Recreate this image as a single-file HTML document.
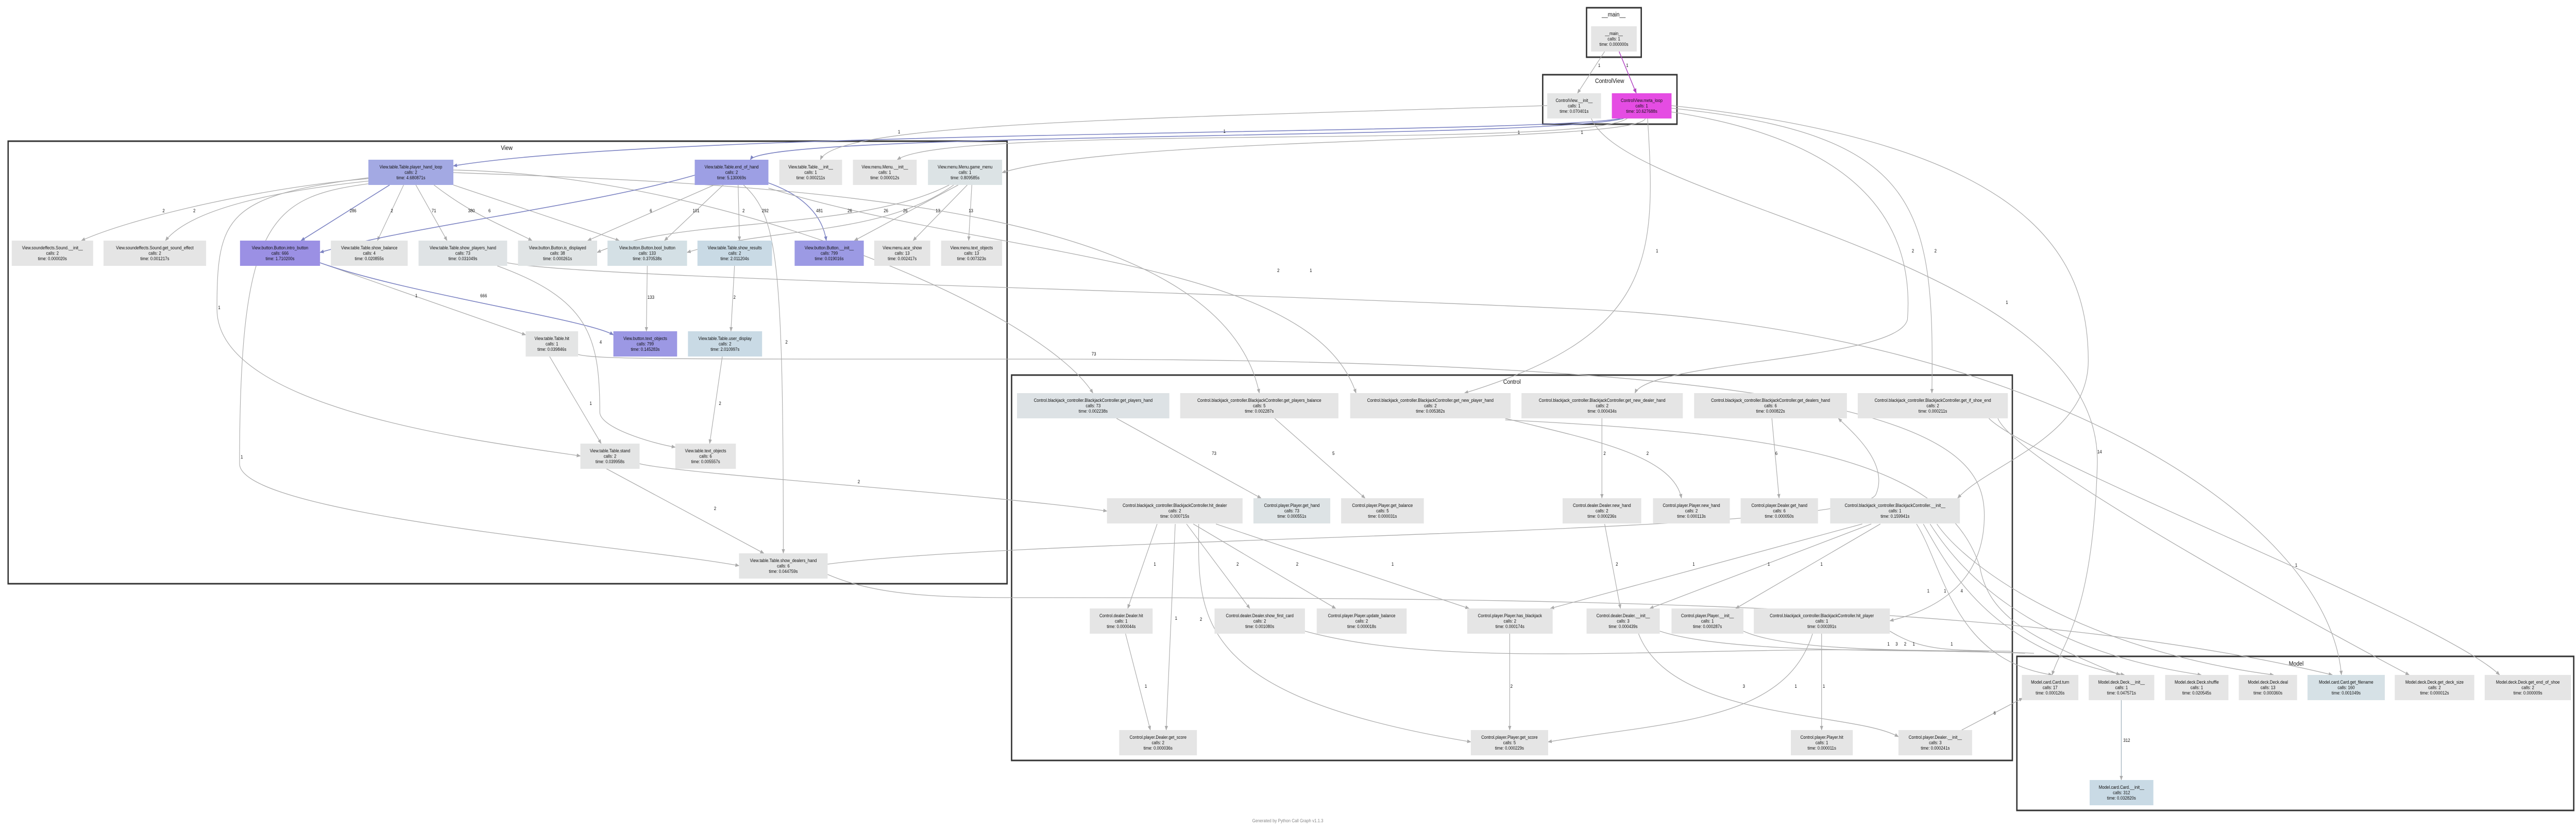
<!DOCTYPE html>
<html><head><meta charset="utf-8"><style>
html,body{margin:0;padding:0;background:#fff;overflow:hidden;width:100%;height:100%;}
svg{display:block;width:100vw;height:100vh;}
text{font-family:"Liberation Sans","DejaVu Sans",sans-serif;font-size:9px;fill:#111;text-anchor:middle;}
.cl{font-size:12px;}
.e{fill:none;stroke:#ababab;stroke-width:1.3;}
.b{fill:none;stroke:#7c83c2;stroke-width:1.6;}
.c{fill:#fff;stroke:#333;stroke-width:3;}
</style></head><body>
<svg viewBox="0 0 5699 1611" preserveAspectRatio="none" xmlns="http://www.w3.org/2000/svg">
<defs>
<marker id="a" viewBox="0 0 10 10" refX="9" refY="5" markerWidth="9" markerHeight="9" orient="auto" markerUnits="userSpaceOnUse"><path d="M0,1 L10,5 L0,9 z" fill="#ababab"/></marker>
<marker id="ab" viewBox="0 0 10 10" refX="9" refY="5" markerWidth="9" markerHeight="9" orient="auto" markerUnits="userSpaceOnUse"><path d="M0,1 L10,5 L0,9 z" fill="#7c83c2"/></marker>
<marker id="am" viewBox="0 0 10 10" refX="9" refY="5" markerWidth="10" markerHeight="10" orient="auto" markerUnits="userSpaceOnUse"><path d="M0,1 L10,5 L0,9 z" fill="#b040c0"/></marker>
</defs>
<rect width="5699" height="1611" fill="#fff"/>

<rect class="c" x="3510" y="15" width="121" height="96"/><text class="cl" x="3570" y="32">__main__</text>
<rect class="c" x="3413" y="145" width="297" height="96"/><text class="cl" x="3561" y="161">ControlView</text>
<rect class="c" x="18" y="274" width="2210" height="859"/><text class="cl" x="1121" y="291">View</text>
<rect class="c" x="2238" y="728" width="2214" height="748"/><text class="cl" x="3345" y="745">Control</text>
<rect class="c" x="4462" y="1274" width="1232" height="299"/><text class="cl" x="5080" y="1292">Model</text>

<g>
<path class="e" marker-end="url(#a)" d="M3550,100 L3490,181"/><text x="3538" y="130">1</text>
<path d="M3582,100 L3620,181" fill="none" stroke="#b040c0" stroke-width="1.6" marker-end="url(#am)"/><text x="3600" y="130">1</text>
<path class="b" marker-end="url(#ab)" d="M3585,230 C3400,262 1500,250 1003,322"/><text x="2709" y="258">1</text>
<path class="b" marker-end="url(#ab)" d="M3592,230 C3400,272 1700,255 1660,310"/>
<path class="e" marker-end="url(#a)" d="M3423,205 C2500,230 1850,240 1815,310"/><text x="1989" y="259">1</text>
<path class="e" marker-end="url(#a)" d="M3600,230 C3500,290 2100,240 1985,310"/><text x="3360" y="260">1</text>
<path class="e" marker-end="url(#a)" d="M3640,230 C3620,280 2500,260 2217,335"/><text x="3500" y="260">1</text>
<path class="e" marker-end="url(#a)" d="M3520,229 C3600,400 4650,500 4640,900 C4630,1200 4560,1250 4540,1310"/><text x="4645" y="880">14</text>
<path class="e" marker-end="url(#a)" d="M3645,230 C3665,500 3660,650 3240,763"/><text x="3666" y="490">1</text>
<path class="e" marker-end="url(#a)" d="M3680,215 C4200,280 4230,500 4220,620 C4200,700 3650,700 3617,763"/><text x="4232" y="490">2</text>
<path class="e" marker-end="url(#a)" d="M3698,210 C4250,260 4280,400 4274,763"/><text x="4282" y="490">2</text>
<path class="e" marker-end="url(#a)" d="M3698,205 C4500,280 4620,500 4620,700 C4620,850 4400,900 4331,967"/><text x="4440" y="590">1</text>
<path class="e" marker-end="url(#a)" d="M1831,1095 C2300,1040 4100,1040 4150,960 C4180,900 4100,840 4067,812"/>

<path class="e" marker-end="url(#a)" d="M840,345 C600,360 300,420 180,467"/><text x="362" y="412">2</text>
<path class="e" marker-end="url(#a)" d="M830,350 C500,380 400,430 366,467"/><text x="430" y="412">2</text>
<path class="b" marker-end="url(#ab)" d="M862,359 L666,467"/><text x="781" y="412">286</text>
<path class="e" marker-end="url(#a)" d="M893,359 L835,467"/><text x="867" y="412">2</text>
<path class="e" marker-end="url(#a)" d="M920,359 L989,467"/><text x="960" y="412">71</text>
<path class="e" marker-end="url(#a)" d="M960,359 C1050,420 1120,440 1177,467"/><text x="1043" y="412">380</text>
<path class="e" marker-end="url(#a)" d="M1003,359 L1370,467"/><text x="1083" y="412">6</text>
<path class="e" marker-end="url(#a)" d="M708,510 L1163,650"/><text x="921" y="577">1</text>
<path class="e" marker-end="url(#a)" d="M815,345 C500,380 480,420 480,600 C480,800 1100,860 1284,885"/><text x="485" y="600">1</text>
<path class="e" marker-end="url(#a)" d="M830,355 C600,380 530,420 530,900 C530,1000 1400,1060 1635,1098"/><text x="535" y="890">1</text>
<path class="e" marker-end="url(#a)" d="M1003,330 C1600,340 2300,600 2418,763"/><text x="2420" y="690">73</text>
<path class="e" marker-end="url(#a)" d="M1003,335 C1800,360 2700,400 2786,763"/><text x="2828" y="528">2</text>
<path class="b" marker-end="url(#ab)" d="M708,510 C900,570 1300,620 1357,650"/><text x="1070" y="577">666</text>
<path class="e" marker-end="url(#a)" d="M1580,359 L1300,467"/><text x="1440" y="412">6</text>
<path class="e" marker-end="url(#a)" d="M1600,359 L1470,467"/><text x="1540" y="412">101</text>
<path class="e" marker-end="url(#a)" d="M1633,359 L1636,467"/><text x="1645" y="412">2</text>
<path class="b" marker-end="url(#ab)" d="M1700,355 C1780,380 1820,420 1828,467"/><text x="1813" y="412">481</text>
<path class="e" marker-end="url(#a)" d="M1645,359 C1720,420 1733,500 1733,1074"/><text x="1693" y="412">292</text><text x="1740" y="667">2</text>
<path class="b" marker-end="url(#ab)" d="M1537,340 C1300,400 900,440 708,490"/>
<path class="e" marker-end="url(#a)" d="M1700,365 C2200,500 2900,500 3000,763"/><text x="2900" y="528">1</text>
<path class="e" marker-end="url(#a)" d="M2100,359 C1900,450 1500,420 1321,490"/><text x="1880" y="412">26</text>
<path class="e" marker-end="url(#a)" d="M2110,359 C1950,460 1700,440 1520,490"/><text x="1960" y="412">26</text>
<path class="e" marker-end="url(#a)" d="M2120,359 L1890,467"/><text x="2003" y="412">26</text>
<path class="e" marker-end="url(#a)" d="M2140,359 L2020,467"/><text x="2075" y="412">13</text>
<path class="e" marker-end="url(#a)" d="M2150,359 L2143,467"/><text x="2148" y="412">13</text>
<path class="e" marker-end="url(#a)" d="M1432,516 L1430,643"/><text x="1440" y="580">133</text>
<path class="e" marker-end="url(#a)" d="M1625,516 L1617,643"/><text x="1625" y="580">2</text>
<path class="e" marker-end="url(#a)" d="M1216,692 L1330,861"/><text x="1307" y="786">1</text>
<path class="e" marker-end="url(#a)" d="M1598,692 L1570,861"/><text x="1593" y="786">2</text>
<path class="e" marker-end="url(#a)" d="M1100,516 C1300,580 1327,650 1327,800 C1327,830 1440,860 1494,868"/><text x="1329" y="667">4</text>
<path class="e" marker-end="url(#a)" d="M1279,688 C1320,698 1500,697 2300,697 C4200,697 4390,850 4390,1000 C4390,1150 4250,1190 4181,1205"/>
<path class="e" marker-end="url(#a)" d="M1340,909 L1690,1074"/><text x="1582" y="990">2</text>
<path class="e" marker-end="url(#a)" d="M1415,900 C1500,920 2200,960 2449,992"/><text x="1900" y="938">2</text>
<path class="e" marker-end="url(#a)" d="M1831,1115 C1950,1160 2100,1160 2300,1160 C3500,1160 4500,1170 5160,1310"/>
<path class="e" marker-end="url(#a)" d="M1122,510 C1300,540 2500,560 3500,600 C4500,640 5150,1000 5180,1310"/>

<path class="e" marker-end="url(#a)" d="M2470,812 L2790,967"/><text x="2686" y="883">73</text>
<path class="e" marker-end="url(#a)" d="M2820,812 L3020,967"/><text x="2950" y="883">5</text>
<path class="e" marker-end="url(#a)" d="M3544,812 L3544,967"/><text x="3550" y="883">2</text>
<path class="e" marker-end="url(#a)" d="M3330,812 C3500,850 3700,880 3720,967"/><text x="3645" y="883">2</text>
<path class="e" marker-end="url(#a)" d="M3920,812 L3936,967"/><text x="3930" y="883">6</text>
<path class="e" marker-end="url(#a)" d="M4400,812 C4500,900 5400,1200 5530,1310"/><text x="5080" y="1100">1</text>
<path class="e" marker-end="url(#a)" d="M4420,812 C4460,900 5200,1250 5330,1310"/>
<path class="e" marker-end="url(#a)" d="M3330,815 C3900,840 4300,880 4380,1100 C4400,1200 4500,1240 4690,1310"/>
<path class="e" marker-end="url(#a)" d="M2560,1017 L2495,1181"/><text x="2555" y="1098">1</text>
<path class="e" marker-end="url(#a)" d="M2600,1017 L2580,1417"/><text x="2602" y="1203">1</text>
<path class="e" marker-end="url(#a)" d="M2652,1017 C2650,1200 2640,1350 3254,1440"/><text x="2657" y="1205">2</text>
<path class="e" marker-end="url(#a)" d="M2625,1017 L2765,1181"/><text x="2738" y="1098">2</text>
<path class="e" marker-end="url(#a)" d="M2640,1017 L2955,1181"/><text x="2870" y="1098">2</text>
<path class="e" marker-end="url(#a)" d="M2690,1017 L3250,1181"/><text x="3081" y="1098">1</text>
<path class="e" marker-end="url(#a)" d="M4120,1017 L3430,1181"/><text x="3747" y="1098">1</text>
<path class="e" marker-end="url(#a)" d="M4140,1017 L3650,1181"/><text x="3913" y="1098">1</text>
<path class="e" marker-end="url(#a)" d="M4160,1017 L3840,1181"/><text x="4030" y="1098">1</text>
<path class="e" marker-end="url(#a)" d="M4240,1017 C4300,1100 4320,1280 4540,1310"/><text x="4266" y="1150">1</text>
<path class="e" marker-end="url(#a)" d="M4255,1017 C4310,1100 4400,1260 4700,1310"/><text x="4303" y="1150">1</text>
<path class="e" marker-end="url(#a)" d="M4270,1017 C4330,1100 4480,1260 4870,1310"/><text x="4340" y="1150">4</text>
<path class="e" marker-end="url(#a)" d="M4285,1017 C4350,1100 4600,1260 5030,1310"/>
<path class="e" marker-end="url(#a)" d="M3550,1017 L3585,1181"/><text x="3577" y="1098">2</text>
<path class="e" marker-end="url(#a)" d="M2490,1230 L2545,1417"/><text x="2535" y="1335">1</text>
<path class="e" marker-end="url(#a)" d="M3340,1230 L3340,1417"/><text x="3344" y="1335">2</text>
<path class="e" marker-end="url(#a)" d="M3625,1230 C3700,1400 4100,1380 4200,1430"/><text x="3858" y="1335">3</text>
<path class="e" marker-end="url(#a)" d="M4010,1230 C3950,1400 3700,1400 3425,1440"/><text x="3973" y="1335">1</text>
<path class="e" marker-end="url(#a)" d="M4030,1230 L4030,1417"/><text x="4035" y="1335">1</text>
<path class="e" marker-end="url(#a)" d="M4340,1417 L4475,1355"/><text x="4413" y="1387">6</text>
<path class="e" d="M2887,1225 C3200,1300 3700,1255 4200,1262 C4400,1266 4440,1266 4480,1268"/>
<path class="e" d="M3672,1225 C3800,1262 4100,1262 4300,1264 C4400,1266 4460,1266 4500,1268"/>
<path class="e" d="M3857,1225 C3950,1262 4200,1262 4400,1264"/>
<path class="e" d="M4181,1225 C4250,1262 4300,1262 4450,1264"/>
<text x="4178" y="1253">1</text><text x="4196" y="1253">3</text><text x="4215" y="1253">2</text><text x="4234" y="1253">1</text><text x="4318" y="1253">1</text>
<path fill="none" stroke="#99aab5" stroke-width="1.3" d="M4693,1359 L4693,1514" marker-end="url(#a)"/><text x="4705" y="1440">312</text>
</g>

<g>
<rect x="3520" y="51" width="101" height="49" fill="#e5e5e5"/><text x="3570.5" y="68"><tspan x="3570.5">__main__</tspan><tspan x="3570.5" dy="10.5">calls: 1</tspan><tspan x="3570.5" dy="10.5">time: 0.000000s</tspan></text>
<rect x="3423" y="181" width="119" height="49" fill="#e5e6e6"/><text x="3482.5" y="198"><tspan x="3482.5">ControlView.__init__</tspan><tspan x="3482.5" dy="10.5">calls: 1</tspan><tspan x="3482.5" dy="10.5">time: 0.070401s</tspan></text>
<rect x="3566" y="181" width="132" height="49" fill="#e54ce3"/><text x="3632" y="198"><tspan x="3632">ControlView.meta_loop</tspan><tspan x="3632" dy="10.5">calls: 1</tspan><tspan x="3632" dy="10.5">time: 10.627688s</tspan></text>

<rect x="815" y="310" width="188" height="49" fill="#a3a9e3"/><text x="909" y="327"><tspan x="909">View.table.Table.player_hand_loop</tspan><tspan x="909" dy="10.5">calls: 2</tspan><tspan x="909" dy="10.5">time: 4.680871s</tspan></text>
<rect x="1537" y="310" width="163" height="49" fill="#9d9fe4"/><text x="1618.5" y="327"><tspan x="1618.5">View.table.Table.end_of_hand</tspan><tspan x="1618.5" dy="10.5">calls: 2</tspan><tspan x="1618.5" dy="10.5">time: 5.130069s</tspan></text>
<rect x="1724" y="310" width="139" height="49" fill="#e5e5e5"/><text x="1793.5" y="327"><tspan x="1793.5">View.table.Table.__init__</tspan><tspan x="1793.5" dy="10.5">calls: 1</tspan><tspan x="1793.5" dy="10.5">time: 0.000211s</tspan></text>
<rect x="1887" y="310" width="141" height="49" fill="#e5e5e5"/><text x="1957.5" y="327"><tspan x="1957.5">View.menu.Menu.__init__</tspan><tspan x="1957.5" dy="10.5">calls: 1</tspan><tspan x="1957.5" dy="10.5">time: 0.000012s</tspan></text>
<rect x="2053" y="310" width="164" height="49" fill="#dce3e5"/><text x="2135" y="327"><tspan x="2135">View.menu.Menu.game_menu</tspan><tspan x="2135" dy="10.5">calls: 1</tspan><tspan x="2135" dy="10.5">time: 0.809585s</tspan></text>

<rect x="26" y="467" width="180" height="49" fill="#e5e5e5"/><text x="116" y="484"><tspan x="116">View.soundeffects.Sound.__init__</tspan><tspan x="116" dy="10.5">calls: 2</tspan><tspan x="116" dy="10.5">time: 0.000020s</tspan></text>
<rect x="229" y="467" width="227" height="49" fill="#e5e5e5"/><text x="342.5" y="484"><tspan x="342.5">View.soundeffects.Sound.get_sound_effect</tspan><tspan x="342.5" dy="10.5">calls: 2</tspan><tspan x="342.5" dy="10.5">time: 0.001217s</tspan></text>
<rect x="531" y="467" width="177" height="49" fill="#9b90e4"/><text x="619.5" y="484"><tspan x="619.5">View.button.Button.intro_button</tspan><tspan x="619.5" dy="10.5">calls: 666</tspan><tspan x="619.5" dy="10.5">time: 1.710200s</tspan></text>
<rect x="732" y="467" width="170" height="49" fill="#e4e5e5"/><text x="817" y="484"><tspan x="817">View.table.Table.show_balance</tspan><tspan x="817" dy="10.5">calls: 4</tspan><tspan x="817" dy="10.5">time: 0.020855s</tspan></text>
<rect x="926" y="467" width="196" height="49" fill="#dfe3e5"/><text x="1024" y="484"><tspan x="1024">View.table.Table.show_players_hand</tspan><tspan x="1024" dy="10.5">calls: 73</tspan><tspan x="1024" dy="10.5">time: 0.031049s</tspan></text>
<rect x="1146" y="467" width="175" height="49" fill="#e0e4e5"/><text x="1233.5" y="484"><tspan x="1233.5">View.button.Button.is_displayed</tspan><tspan x="1233.5" dy="10.5">calls: 38</tspan><tspan x="1233.5" dy="10.5">time: 0.000261s</tspan></text>
<rect x="1344" y="467" width="176" height="49" fill="#d4e0e5"/><text x="1432" y="484"><tspan x="1432">View.button.Button.bool_button</tspan><tspan x="1432" dy="10.5">calls: 133</tspan><tspan x="1432" dy="10.5">time: 0.370538s</tspan></text>
<rect x="1543" y="467" width="165" height="49" fill="#c9dae5"/><text x="1625.5" y="484"><tspan x="1625.5">View.table.Table.show_results</tspan><tspan x="1625.5" dy="10.5">calls: 2</tspan><tspan x="1625.5" dy="10.5">time: 2.011204s</tspan></text>
<rect x="1758" y="467" width="153" height="49" fill="#9c9ae4"/><text x="1834.5" y="484"><tspan x="1834.5">View.button.Button.__init__</tspan><tspan x="1834.5" dy="10.5">calls: 799</tspan><tspan x="1834.5" dy="10.5">time: 0.019016s</tspan></text>
<rect x="1934" y="467" width="124" height="49" fill="#e5e5e5"/><text x="1996" y="484"><tspan x="1996">View.menu.ace_show</tspan><tspan x="1996" dy="10.5">calls: 13</tspan><tspan x="1996" dy="10.5">time: 0.002417s</tspan></text>
<rect x="2082" y="467" width="135" height="49" fill="#e5e5e5"/><text x="2149.5" y="484"><tspan x="2149.5">View.menu.text_objects</tspan><tspan x="2149.5" dy="10.5">calls: 13</tspan><tspan x="2149.5" dy="10.5">time: 0.007323s</tspan></text>

<rect x="1163" y="643" width="116" height="49" fill="#e4e5e5"/><text x="1221" y="660"><tspan x="1221">View.table.Table.hit</tspan><tspan x="1221" dy="10.5">calls: 1</tspan><tspan x="1221" dy="10.5">time: 0.039846s</tspan></text>
<rect x="1357" y="643" width="141" height="49" fill="#9c98e4"/><text x="1427.5" y="660"><tspan x="1427.5">View.button.text_objects</tspan><tspan x="1427.5" dy="10.5">calls: 799</tspan><tspan x="1427.5" dy="10.5">time: 0.145283s</tspan></text>
<rect x="1522" y="643" width="164" height="49" fill="#c9dae5"/><text x="1604" y="660"><tspan x="1604">View.table.Table.user_display</tspan><tspan x="1604" dy="10.5">calls: 2</tspan><tspan x="1604" dy="10.5">time: 2.010997s</tspan></text>
<rect x="1284" y="861" width="131" height="49" fill="#e4e5e5"/><text x="1349.5" y="878"><tspan x="1349.5">View.table.Table.stand</tspan><tspan x="1349.5" dy="10.5">calls: 2</tspan><tspan x="1349.5" dy="10.5">time: 0.039958s</tspan></text>
<rect x="1494" y="861" width="134" height="49" fill="#e5e5e5"/><text x="1561" y="878"><tspan x="1561">View.table.text_objects</tspan><tspan x="1561" dy="10.5">calls: 6</tspan><tspan x="1561" dy="10.5">time: 0.005557s</tspan></text>
<rect x="1635" y="1074" width="196" height="49" fill="#e4e5e5"/><text x="1733" y="1091"><tspan x="1733">View.table.Table.show_dealers_hand</tspan><tspan x="1733" dy="10.5">calls: 6</tspan><tspan x="1733" dy="10.5">time: 0.044759s</tspan></text>

<rect x="2250" y="763" width="337" height="49" fill="#dde2e5"/><text x="2418.5" y="780"><tspan x="2418.5">Control.blackjack_controller.BlackjackController.get_players_hand</tspan><tspan x="2418.5" dy="10.5">calls: 73</tspan><tspan x="2418.5" dy="10.5">time: 0.002238s</tspan></text>
<rect x="2611" y="763" width="350" height="49" fill="#e5e5e5"/><text x="2786" y="780"><tspan x="2786">Control.blackjack_controller.BlackjackController.get_players_balance</tspan><tspan x="2786" dy="10.5">calls: 5</tspan><tspan x="2786" dy="10.5">time: 0.002287s</tspan></text>
<rect x="2987" y="763" width="355" height="49" fill="#e5e5e5"/><text x="3164.5" y="780"><tspan x="3164.5">Control.blackjack_controller.BlackjackController.get_new_player_hand</tspan><tspan x="3164.5" dy="10.5">calls: 2</tspan><tspan x="3164.5" dy="10.5">time: 0.005382s</tspan></text>
<rect x="3366" y="763" width="357" height="49" fill="#e5e5e5"/><text x="3544.5" y="780"><tspan x="3544.5">Control.blackjack_controller.BlackjackController.get_new_dealer_hand</tspan><tspan x="3544.5" dy="10.5">calls: 2</tspan><tspan x="3544.5" dy="10.5">time: 0.000434s</tspan></text>
<rect x="3748" y="763" width="338" height="49" fill="#e5e5e5"/><text x="3917" y="780"><tspan x="3917">Control.blackjack_controller.BlackjackController.get_dealers_hand</tspan><tspan x="3917" dy="10.5">calls: 6</tspan><tspan x="3917" dy="10.5">time: 0.000822s</tspan></text>
<rect x="4110" y="763" width="332" height="49" fill="#e5e5e5"/><text x="4276" y="780"><tspan x="4276">Control.blackjack_controller.BlackjackController.get_if_shoe_end</tspan><tspan x="4276" dy="10.5">calls: 2</tspan><tspan x="4276" dy="10.5">time: 0.000211s</tspan></text>

<rect x="2449" y="967" width="300" height="49" fill="#e5e5e5"/><text x="2599" y="984"><tspan x="2599">Control.blackjack_controller.BlackjackController.hit_dealer</tspan><tspan x="2599" dy="10.5">calls: 2</tspan><tspan x="2599" dy="10.5">time: 0.000715s</tspan></text>
<rect x="2773" y="967" width="170" height="49" fill="#dde3e5"/><text x="2858" y="984"><tspan x="2858">Control.player.Player.get_hand</tspan><tspan x="2858" dy="10.5">calls: 73</tspan><tspan x="2858" dy="10.5">time: 0.000551s</tspan></text>
<rect x="2967" y="967" width="183" height="49" fill="#e5e5e5"/><text x="3058.5" y="984"><tspan x="3058.5">Control.player.Player.get_balance</tspan><tspan x="3058.5" dy="10.5">calls: 5</tspan><tspan x="3058.5" dy="10.5">time: 0.000031s</tspan></text>
<rect x="3457" y="967" width="174" height="49" fill="#e5e5e5"/><text x="3544" y="984"><tspan x="3544">Control.dealer.Dealer.new_hand</tspan><tspan x="3544" dy="10.5">calls: 2</tspan><tspan x="3544" dy="10.5">time: 0.000236s</tspan></text>
<rect x="3657" y="967" width="170" height="49" fill="#e5e5e5"/><text x="3742" y="984"><tspan x="3742">Control.player.Player.new_hand</tspan><tspan x="3742" dy="10.5">calls: 2</tspan><tspan x="3742" dy="10.5">time: 0.000113s</tspan></text>
<rect x="3851" y="967" width="171" height="49" fill="#e5e5e5"/><text x="3936.5" y="984"><tspan x="3936.5">Control.player.Dealer.get_hand</tspan><tspan x="3936.5" dy="10.5">calls: 6</tspan><tspan x="3936.5" dy="10.5">time: 0.000050s</tspan></text>
<rect x="4049" y="967" width="287" height="49" fill="#e4e5e5"/><text x="4192.5" y="984"><tspan x="4192.5">Control.blackjack_controller.BlackjackController.__init__</tspan><tspan x="4192.5" dy="10.5">calls: 1</tspan><tspan x="4192.5" dy="10.5">time: 0.159941s</tspan></text>

<rect x="2411" y="1181" width="139" height="49" fill="#e5e5e5"/><text x="2480.5" y="1198"><tspan x="2480.5">Control.dealer.Dealer.hit</tspan><tspan x="2480.5" dy="10.5">calls: 1</tspan><tspan x="2480.5" dy="10.5">time: 0.000044s</tspan></text>
<rect x="2687" y="1181" width="200" height="49" fill="#e5e5e5"/><text x="2787" y="1198"><tspan x="2787">Control.dealer.Dealer.show_first_card</tspan><tspan x="2787" dy="10.5">calls: 2</tspan><tspan x="2787" dy="10.5">time: 0.001080s</tspan></text>
<rect x="2913" y="1181" width="199" height="49" fill="#e5e5e5"/><text x="3012.5" y="1198"><tspan x="3012.5">Control.player.Player.update_balance</tspan><tspan x="3012.5" dy="10.5">calls: 2</tspan><tspan x="3012.5" dy="10.5">time: 0.000018s</tspan></text>
<rect x="3246" y="1181" width="189" height="49" fill="#e5e5e5"/><text x="3340.5" y="1198"><tspan x="3340.5">Control.player.Player.has_blackjack</tspan><tspan x="3340.5" dy="10.5">calls: 2</tspan><tspan x="3340.5" dy="10.5">time: 0.000174s</tspan></text>
<rect x="3510" y="1181" width="162" height="49" fill="#e5e5e5"/><text x="3591" y="1198"><tspan x="3591">Control.dealer.Dealer.__init__</tspan><tspan x="3591" dy="10.5">calls: 3</tspan><tspan x="3591" dy="10.5">time: 0.000439s</tspan></text>
<rect x="3698" y="1181" width="159" height="49" fill="#e5e5e5"/><text x="3777.5" y="1198"><tspan x="3777.5">Control.player.Player.__init__</tspan><tspan x="3777.5" dy="10.5">calls: 1</tspan><tspan x="3777.5" dy="10.5">time: 0.000287s</tspan></text>
<rect x="3880" y="1181" width="301" height="49" fill="#e5e5e5"/><text x="4030.5" y="1198"><tspan x="4030.5">Control.blackjack_controller.BlackjackController.hit_player</tspan><tspan x="4030.5" dy="10.5">calls: 1</tspan><tspan x="4030.5" dy="10.5">time: 0.000391s</tspan></text>

<rect x="2476" y="1417" width="172" height="49" fill="#e5e5e5"/><text x="2562" y="1434"><tspan x="2562">Control.player.Dealer.get_score</tspan><tspan x="2562" dy="10.5">calls: 2</tspan><tspan x="2562" dy="10.5">time: 0.000036s</tspan></text>
<rect x="3254" y="1417" width="171" height="49" fill="#e5e5e5"/><text x="3339.5" y="1434"><tspan x="3339.5">Control.player.Player.get_score</tspan><tspan x="3339.5" dy="10.5">calls: 5</tspan><tspan x="3339.5" dy="10.5">time: 0.000229s</tspan></text>
<rect x="3962" y="1417" width="137" height="49" fill="#e5e5e5"/><text x="4030.5" y="1434"><tspan x="4030.5">Control.player.Player.hit</tspan><tspan x="4030.5" dy="10.5">calls: 1</tspan><tspan x="4030.5" dy="10.5">time: 0.000011s</tspan></text>
<rect x="4200" y="1417" width="163" height="49" fill="#e5e5e5"/><text x="4281.5" y="1434"><tspan x="4281.5">Control.player.Dealer.__init__</tspan><tspan x="4281.5" dy="10.5">calls: 3</tspan><tspan x="4281.5" dy="10.5">time: 0.000241s</tspan></text>

<rect x="4473" y="1310" width="125" height="49" fill="#e5e5e5"/><text x="4535.5" y="1327"><tspan x="4535.5">Model.card.Card.turn</tspan><tspan x="4535.5" dy="10.5">calls: 17</tspan><tspan x="4535.5" dy="10.5">time: 0.000126s</tspan></text>
<rect x="4621" y="1310" width="145" height="49" fill="#e5e5e5"/><text x="4693.5" y="1327"><tspan x="4693.5">Model.deck.Deck.__init__</tspan><tspan x="4693.5" dy="10.5">calls: 1</tspan><tspan x="4693.5" dy="10.5">time: 0.047571s</tspan></text>
<rect x="4790" y="1310" width="140" height="49" fill="#e5e5e5"/><text x="4860" y="1327"><tspan x="4860">Model.deck.Deck.shuffle</tspan><tspan x="4860" dy="10.5">calls: 1</tspan><tspan x="4860" dy="10.5">time: 0.020545s</tspan></text>
<rect x="4953" y="1310" width="129" height="49" fill="#e5e5e5"/><text x="5017.5" y="1327"><tspan x="5017.5">Model.deck.Deck.deal</tspan><tspan x="5017.5" dy="10.5">calls: 13</tspan><tspan x="5017.5" dy="10.5">time: 0.000360s</tspan></text>
<rect x="5105" y="1310" width="171" height="49" fill="#d6e1e6"/><text x="5190.5" y="1327"><tspan x="5190.5">Model.card.Card.get_filename</tspan><tspan x="5190.5" dy="10.5">calls: 160</tspan><tspan x="5190.5" dy="10.5">time: 0.001049s</tspan></text>
<rect x="5298" y="1310" width="176" height="49" fill="#e5e5e5"/><text x="5386" y="1327"><tspan x="5386">Model.deck.Deck.get_deck_size</tspan><tspan x="5386" dy="10.5">calls: 2</tspan><tspan x="5386" dy="10.5">time: 0.000012s</tspan></text>
<rect x="5497" y="1310" width="191" height="49" fill="#e5e5e5"/><text x="5592.5" y="1327"><tspan x="5592.5">Model.deck.Deck.get_end_of_shoe</tspan><tspan x="5592.5" dy="10.5">calls: 2</tspan><tspan x="5592.5" dy="10.5">time: 0.000009s</tspan></text>
<rect x="4623" y="1514" width="141" height="49" fill="#c9dae5"/><text x="4693.5" y="1531"><tspan x="4693.5">Model.card.Card.__init__</tspan><tspan x="4693.5" dy="10.5">calls: 312</tspan><tspan x="4693.5" dy="10.5">time: 0.032820s</tspan></text>
</g>

<text x="2849" y="1596" style="fill:#888;font-size:9px">Generated by Python Call Graph v1.1.3</text>
</svg>
</body></html>
